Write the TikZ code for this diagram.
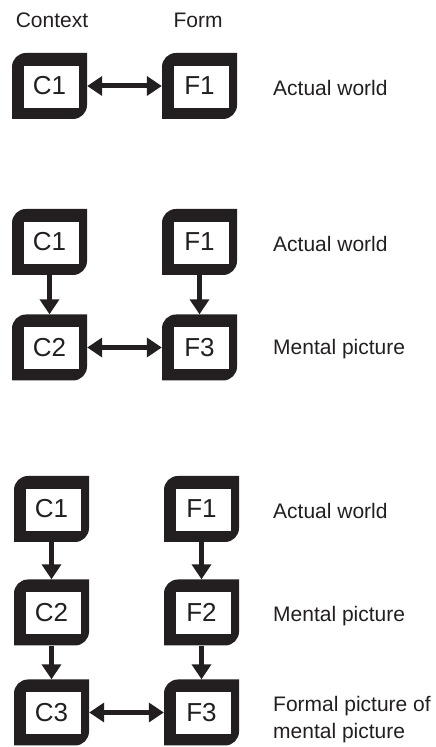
\documentclass[tikz,border=0pt]{standalone}
\usepackage{fontspec}
\setmainfont{Liberation Sans}
\usetikzlibrary{arrows.meta}
\definecolor{ink}{HTML}{231F20}
\tikzset{
  box/.style={rectangle, minimum width=75pt, minimum height=66pt, inner sep=0pt,
    fill=white, text=ink, font=\fontsize{26}{28}\selectfont,
    path picture={
      \fill[ink] ([yshift=-14pt]path picture bounding box.north west)
        arc[start angle=180, end angle=90, radius=14pt]
        -- (path picture bounding box.north east)
        -- ([yshift=14pt]path picture bounding box.south east)
        arc[start angle=0, end angle=-90, radius=14pt]
        -- (path picture bounding box.south west) -- cycle;
      \filldraw[fill=white, draw=ink, line width=0.6pt]
        ([shift={(11pt,-12pt)}]path picture bounding box.north west) rectangle
        ([shift={(-8pt,11pt)}]path picture bounding box.south east);
    }},
  lbl/.style={text=ink, font=\fontsize{21}{26.5}\selectfont, inner sep=0pt},
  arr/.style={draw=ink, line width=5pt, -{Triangle[length=15pt,width=19pt]}},
  darr/.style={draw=ink, line width=5pt, {Triangle[length=15pt,width=19pt]}-{Triangle[length=15pt,width=19pt]}}
}
\begin{document}
\begin{tikzpicture}[x=1pt,y=1pt]
\useasboundingbox (0,0) rectangle (436,747);
% headings
\node[lbl, anchor=base] (hctx) at (52,719.7) {Context};
\node[lbl, anchor=base] (hform) at (198,719.7) {Form};
% section 1
\node[box] (a1) at (49.5,661) {C1};
\node[box] (b1) at (199.5,661) {F1};
\draw[darr] (a1) -- (b1);
\node[lbl, anchor=base west] (t1) at (273,651) {Actual world};
% section 2
\node[box] (a2) at (49.5,505) {C1};
\node[box] (b2) at (199.5,505) {F1};
\node[box] (a3) at (49.5,399.5) {C2};
\node[box] (b3) at (199.5,399.5) {F3};
\draw[arr] (a2) -- (a3);
\draw[arr] (b2) -- (b3);
\draw[darr] (a3) -- (b3);
\node[lbl, anchor=base west] (t2) at (273,495) {Actual world};
\node[lbl, anchor=base west] (t3) at (273,392) {Mental picture};
% section 3
\node[box] (a4) at (51.5,238) {C1};
\node[box] (b4) at (201.5,238) {F1};
\node[box] (a5) at (51.5,134.5) {C2};
\node[box] (b5) at (201.5,134.5) {F2};
\node[box] (a6) at (51.5,34.5) {C3};
\node[box] (b6) at (201.5,34.5) {F3};
\draw[arr] (a4) -- (a5);
\draw[arr] (a5) -- (a6);
\draw[arr] (b4) -- (b5);
\draw[arr] (b5) -- (b6);
\draw[darr] (a6) -- (b6);
\node[lbl, anchor=base west] (t4) at (273,228) {Actual world};
\node[lbl, anchor=base west] (t5) at (273,125.3) {Mental picture};
\node[lbl, anchor=base west, align=left] (t6) at (273,9) {Formal picture of\\mental picture};
\end{tikzpicture}
\end{document}
